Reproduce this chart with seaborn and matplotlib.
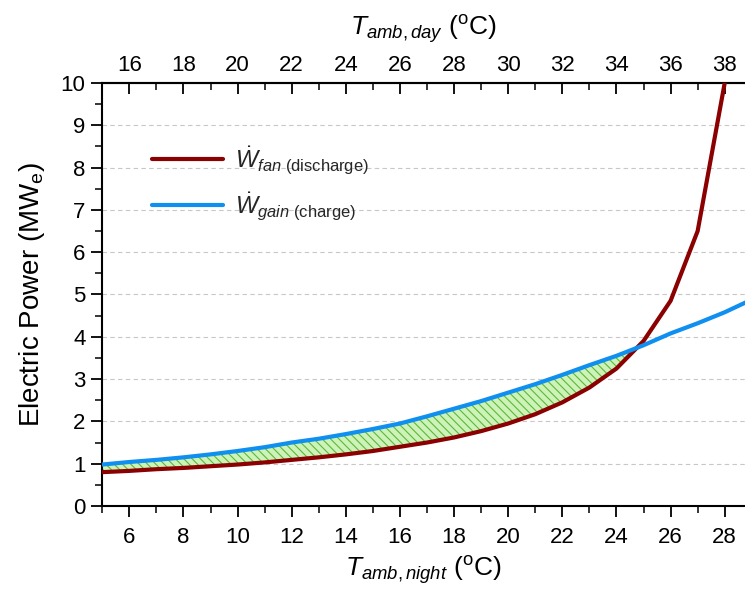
import numpy as np
import pandas as pd
import matplotlib
matplotlib.use("Agg")
import matplotlib.pyplot as plt
import seaborn as sns
from matplotlib.ticker import MultipleLocator

# ---- data ----
t_night = [5, 6, 7, 8, 9, 10, 11, 12, 13, 14, 15, 16, 17, 18, 19, 20, 21, 22, 23, 24, 25, 26, 27, 28, 29]
w_fan = [0.80, 0.83, 0.87, 0.90, 0.94, 0.98, 1.03, 1.09, 1.15, 1.22, 1.30, 1.40, 1.50, 1.62, 1.77, 1.95,
         2.17, 2.45, 2.80, 3.25, 3.90, 4.85, 6.50, 10.0, 14.0]
w_gain = [0.98, 1.04, 1.09, 1.15, 1.22, 1.30, 1.39, 1.50, 1.59, 1.70, 1.82, 1.95, 2.12, 2.30, 2.48, 2.68,
          2.88, 3.10, 3.33, 3.55, 3.80, 4.08, 4.32, 4.58, 4.88]
x_ticks = [6, 8, 10, 12, 14, 16, 18, 20, 22, 24, 26, 28]
top_ticks = [16, 18, 20, 22, 24, 26, 28, 30, 32, 34, 36, 38]
day_offset = 10
y_ticks = [0, 1, 2, 3, 4, 5, 6, 7, 8, 9, 10]

sns.set_theme(style="white")
plt.rcParams['font.family'] = ['Liberation Sans', 'DejaVu Sans']
plt.rcParams['mathtext.fontset'] = 'custom'
plt.rcParams['mathtext.rm'] = 'Liberation Sans'
plt.rcParams['mathtext.it'] = 'Liberation Sans:italic'
plt.rcParams['mathtext.bf'] = 'Liberation Sans:bold'
plt.rcParams['hatch.linewidth'] = 0.8

fig = plt.figure(figsize=(7.45, 5.95), dpi=100)
ax = fig.add_axes([0.1373, 0.1496, 0.8627, 0.7109])

df = pd.DataFrame({
    "T": t_night * 2,
    "W": w_fan + w_gain,
    "series": ["fan"] * len(t_night) + ["gain"] * len(t_night),
})
labels = {
    "fan": r"$\dot{W}_{fan\ \mathrm{(discharge)}}$",
    "gain": r"$\dot{W}_{gain\ \mathrm{(charge)}}$",
}
df["series"] = df["series"].map(labels)
palette = {labels["fan"]: "#8b0000", labels["gain"]: "#0f8ff0"}

x = np.array(t_night, dtype=float)
f = np.array(w_fan)
g = np.array(w_gain)
ax.fill_between(x, f, g, where=g >= f, interpolate=True, facecolor="#cdf3b8",
                edgecolor="#5db83a", hatch="\\\\\\\\", linewidth=0, zorder=1)

sns.lineplot(data=df, x="T", y="W", hue="series", palette=palette, linewidth=3,
             ax=ax, legend=True, zorder=3)

ax.set_xlim(5, 28.75)
ax.set_ylim(0, 10)
ax.set_xticks(x_ticks)
ax.set_yticks(y_ticks)
ax.xaxis.set_minor_locator(MultipleLocator(1))
ax.yaxis.set_minor_locator(MultipleLocator(0.5))
for yv in y_ticks[1:-1]:
    ax.axhline(yv, color="#c8c8c8", linestyle=(0, (4, 3)), linewidth=0.8, zorder=0)

ax.tick_params(axis="both", which="major", direction="out", length=8, width=1.3,
               labelsize=16, color="black", labelcolor="black", pad=4)
ax.tick_params(axis="x", which="major", pad=7)
ax.tick_params(axis="both", which="minor", direction="out", length=5, width=1.1, color="black")
ax.tick_params(bottom=True, left=True, which="both")

for side in ["left", "bottom", "top"]:
    ax.spines[side].set_visible(True)
    ax.spines[side].set_color("black")
    ax.spines[side].set_linewidth(1.5)
ax.spines["right"].set_visible(False)

ax.set_xlabel(r"$T_{amb,night}$ ($^{\mathrm{o}}$C)", fontsize=19, color="black", labelpad=5)
ax.set_ylabel(r"Electric Power (MW$_\mathrm{e}$)", fontsize=20, color="black", labelpad=10)

sec = ax.secondary_xaxis("top", functions=(lambda v: v + day_offset, lambda v: v - day_offset))
sec.set_xticks(top_ticks)
sec.xaxis.set_minor_locator(MultipleLocator(1))
sec.tick_params(axis="x", which="major", direction="in", length=8, width=1.3, labelsize=16,
                color="black", labelcolor="black", pad=5)
sec.tick_params(axis="x", which="minor", direction="in", length=5, width=1.1, color="black")
sec.spines["top"].set_linewidth(1.5)
sec.set_xlabel(r"$T_{amb,day}$ ($^{\mathrm{o}}$C)", fontsize=19, color="black", labelpad=14)

leg = ax.legend(loc="upper left", bbox_to_anchor=(0.045, 0.905), frameon=False, fontsize=17,
                handlelength=3.0, labelspacing=0.6, handletextpad=0.5, title=None)
for line in leg.get_lines():
    line.set_linewidth(3)

fig.savefig("out.png", dpi=100, facecolor="white")
